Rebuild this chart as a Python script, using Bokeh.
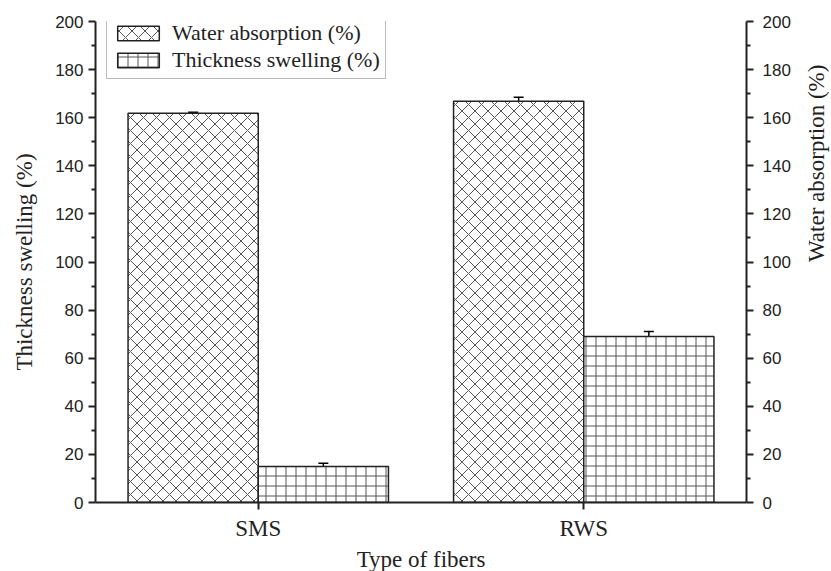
import math
from bokeh.plotting import figure
from bokeh.models import (ColumnDataSource, Range1d, LinearAxis, FixedTicker,
                          Whisker, Legend, LegendItem)
from bokeh.embed import file_html
from bokeh.resources import INLINE

categories = ["SMS", "RWS"]
water_absorption = [161.8, 166.8]
water_err = [0.5, 1.7]
thickness_swelling = [15.0, 69.0]
thickness_err = [1.3, 2.1]
y_ticks = [0, 20, 40, 60, 80, 100, 120, 140, 160, 180, 200]

group_pos = [1, 2]
bar_w = 0.4

src_w = ColumnDataSource(dict(
    x=[g - bar_w / 2 for g in group_pos], top=water_absorption,
    lower=[v - e for v, e in zip(water_absorption, water_err)],
    upper=[v + e for v, e in zip(water_absorption, water_err)]))
src_t = ColumnDataSource(dict(
    x=[g + bar_w / 2 for g in group_pos], top=thickness_swelling,
    lower=[v - e for v, e in zip(thickness_swelling, thickness_err)],
    upper=[v + e for v, e in zip(thickness_swelling, thickness_err)]))

p = figure(frame_width=651, frame_height=481, output_backend="svg",
           toolbar_location=None,
           x_range=Range1d(0.5, 2.5), y_range=Range1d(0, 200),
           min_border_left=95, min_border_right=85, min_border_top=21,
           min_border_bottom=68)
p.extra_y_ranges = {"right": Range1d(0, 200)}
p.outline_line_color = None
p.xgrid.visible = False
p.ygrid.visible = False
p.background_fill_color = "white"
p.border_fill_color = "white"

rw = p.vbar(x="x", top="top", width=bar_w, source=src_w, y_range_name="right",
            fill_color="white", line_color="#222222", line_width=1.5,
            hatch_pattern="diagonal_cross", hatch_color="#555555",
            hatch_scale=13, hatch_weight=1)
rt = p.vbar(x="x", top="top", width=bar_w, source=src_t,
            fill_color="white", line_color="#222222", line_width=1.5,
            hatch_pattern="cross", hatch_color="#555555",
            hatch_scale=10, hatch_weight=1)

for src, rng in ((src_w, "right"), (src_t, "default")):
    wk = Whisker(base="x", lower="lower", upper="upper", source=src,
                 y_range_name=rng, line_color="black", line_width=1.5)
    wk.upper_head.size = 10
    wk.lower_head.size = 10
    wk.upper_head.line_width = 1.5
    wk.lower_head.line_width = 1.5
    p.add_layout(wk)

tick_font = "Liberation Sans"
title_font = "Liberation Serif"

def style_y(ax, standoff, title_standoff):
    ax.ticker = FixedTicker(ticks=y_ticks, minor_ticks=list(range(10, 200, 20)))
    ax.axis_line_width = 2
    ax.axis_line_color = "#222222"
    ax.major_tick_line_width = 2
    ax.minor_tick_line_width = 2
    ax.major_tick_out = 7
    ax.major_tick_in = 0
    ax.minor_tick_out = 4
    ax.minor_tick_in = 0
    ax.major_tick_line_color = "#222222"
    ax.minor_tick_line_color = "#222222"
    ax.major_label_text_font = tick_font
    ax.major_label_text_font_size = "17px"
    ax.major_label_text_color = "#222222"
    ax.major_label_standoff = standoff
    ax.axis_label_text_font = title_font
    ax.axis_label_text_font_size = "23px"
    ax.axis_label_text_font_style = "normal"
    ax.axis_label_text_color = "#222222"
    ax.axis_label_standoff = title_standoff

yl = p.yaxis[0]
style_y(yl, 5, 15)
yl.axis_label = "Thickness swelling (%)"

yr = LinearAxis(y_range_name="right", axis_label="Water absorption (%)")
style_y(yr, 9, 23)
# reference reads bottom-to-top on the right side as well
if "axis_label_orientation" in yr.properties():
    yr.axis_label_orientation = math.pi / 2
yr.axis_label_text_align = "center"
p.add_layout(yr, "right")

xa = p.xaxis[0]
xa.ticker = FixedTicker(ticks=group_pos, minor_ticks=[])
xa.major_label_overrides = {g: c for g, c in zip(group_pos, categories)}
xa.axis_line_width = 2
xa.axis_line_color = "#222222"
xa.major_tick_line_width = 2
xa.major_tick_line_color = "#222222"
xa.major_tick_out = 7
xa.major_tick_in = 0
xa.minor_tick_out = 0
xa.major_label_text_font = title_font
xa.major_label_text_font_size = "23px"
xa.major_label_text_color = "#222222"
xa.major_label_standoff = 6
xa.axis_label = "Type of fibers"
xa.axis_label_text_font = title_font
xa.axis_label_text_font_size = "23px"
xa.axis_label_text_font_style = "normal"
xa.axis_label_text_color = "#222222"
xa.axis_label_standoff = 3

legend = Legend(items=[LegendItem(label="Water absorption (%)", renderers=[rw]),
                       LegendItem(label="Thickness swelling (%)", renderers=[rt])],
                location=(11, 423), glyph_width=52, glyph_height=18,
                label_height=25, spacing=1, padding=5, margin=0,
                label_standoff=8, border_line_color="#777777",
                border_line_width=1.5,
                label_text_font=title_font, label_text_font_size="22px",
                label_text_color="#222222", background_fill_alpha=1)
p.add_layout(legend, "center")

open("out.html", "w").write(file_html(p, INLINE))
